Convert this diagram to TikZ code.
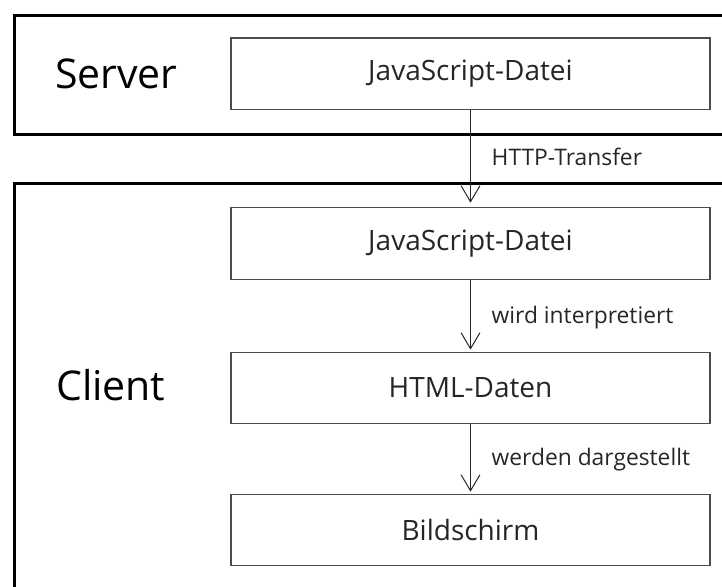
\documentclass[tikz,border=0pt]{standalone}
\usepackage{fontspec}
\setmainfont{Open Sans}
\usetikzlibrary{arrows.meta}
\begin{document}
\begin{tikzpicture}[x=1pt,y=-1pt,
  frame/.style={draw=black, line width=3pt},
  stepbox/.style={draw=black!70, line width=1.2pt, minimum width=479pt,
    minimum height=71.5pt, inner sep=0pt, text=black!85,
    font=\fontsize{28}{32}\selectfont},
  title/.style={anchor=base west, inner sep=0pt,
    font=\fontsize{41}{46}\selectfont},
  lbl/.style={anchor=base west, inner sep=0pt, text=black!85,
    font=\fontsize{22.8}{26}\selectfont},
  flow/.style={draw=black!85, line width=1pt,
    -{Straight Barb[length=16pt,width=19pt,line width=1pt]}, shorten >=2pt}]
  \useasboundingbox (0,0) rectangle (722,586);
  \clip (0,0) rectangle (722,586);

  % the two tiers, open towards the right and the bottom
  \draw[frame] (14.5,15.5) rectangle (760,134.5);
  \draw[frame] (14.5,183.5) rectangle (760,640);

  \node[title] (srv) at (55,88) {Server};
  \node[title] (cli) at (56,400) {Client};

  \node[stepbox] (s1) at (470.5,73.75) {JavaScript-Datei};
  \node[stepbox] (c1) at (470.5,243.5) {JavaScript-Datei};
  \node[stepbox] (c2) at (470.5,388) {HTML-Daten};
  \node[stepbox] (c3) at (470.5,530) {Bildschirm};

  \draw[flow, shorten >=4.5pt] (s1) -- (c1);
  \draw[flow] (c1) -- (c2);
  \draw[flow] (c2) -- (c3);

  \node[lbl] (l1) at (491.5,165) {HTTP-Transfer};
  \node[lbl] (l2) at (491.5,323) {wird interpretiert};
  \node[lbl] (l3) at (491.5,465) {werden dargestellt};
\end{tikzpicture}
\end{document}
